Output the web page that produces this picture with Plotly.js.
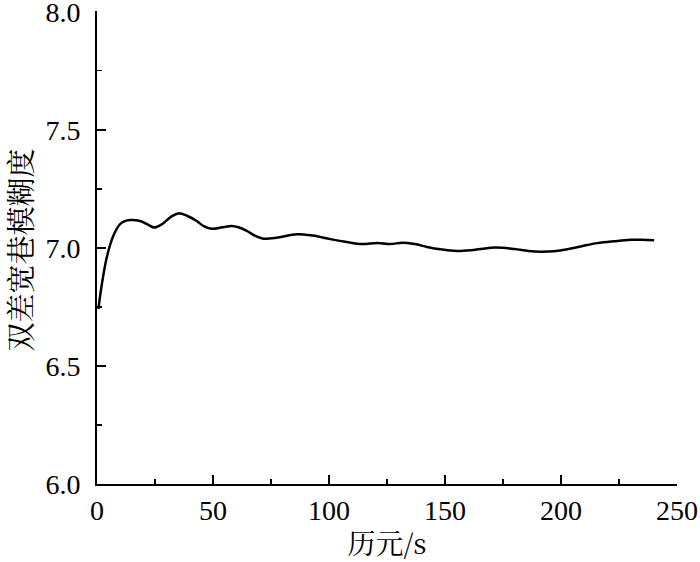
<!DOCTYPE html>
<html><head><meta charset="utf-8">
<script src="https://cdn.plot.ly/plotly-3.0.1.min.js"></script>
<style>html,body{margin:0;padding:0;background:#fff}</style>
</head><body><div id="chart" style="width:700px;height:562px"></div>
<script>
const epochs = [0.6,2,4.2,7,9.9,12,14.2,18.6,22,24.7,28,32,35.1,39,43,46,49.5,54,58.1,61,64.6,68,71.8,78,86.2,93,100.6,107,114.3,120.8,126.5,131.6,137,142.3,148,155.3,163,171.8,180,186,191.3,197,202.8,209,215.7,223,230.1,235,240.2];
const ambiguity = [6.741,6.84,6.959,7.05,7.10,7.113,7.118,7.114,7.098,7.086,7.100,7.132,7.146,7.135,7.114,7.092,7.081,7.087,7.093,7.087,7.072,7.052,7.039,7.044,7.058,7.052,7.037,7.026,7.016,7.021,7.016,7.022,7.016,7.004,6.994,6.987,6.992,7.001,6.995,6.987,6.984,6.986,6.994,7.007,7.02,7.028,7.034,7.034,7.032];
const xTicks = [0, 50, 100, 150, 200, 250];
const xMinor = [25, 75, 125, 175, 225];
const yTicks = [6, 6.5, 7, 7.5, 8];
const yMinor = [6.25, 6.75, 7.25, 7.75];
const xTitle = "历元/s";
const yTitle = "双差宽巷模糊度";

const font = "Liberation Serif, Times New Roman, serif";
const cjk = "Noto Serif CJK SC, Noto Sans CJK SC, serif";

Plotly.newPlot("chart", [{
  x: epochs, y: ambiguity, type: "scatter", mode: "lines",
  line: {color: "#000", width: 2.5, shape: "spline", smoothing: 1}
}], {
  width: 700, height: 562,
  margin: {l: 97, r: 23, t: 11, b: 78},
  paper_bgcolor: "#fff", plot_bgcolor: "#fff",
  showlegend: false,
  font: {family: font, color: "#000", size: 28},
  xaxis: {
    range: [0, 250.05], tickvals: xTicks,
    showline: true, linecolor: "#000", linewidth: 2,
    ticks: "inside", ticklen: 9, tickwidth: 2, tickcolor: "#000",
    minor: {tickvals: xMinor, ticks: "inside", ticklen: 5, tickwidth: 1.5, tickcolor: "#000"},
    showgrid: false, zeroline: false,
    ticklabeloverflow: "allow",
    tickfont: {family: font, size: 28, color: "#000"},
    title: {text: xTitle, font: {family: cjk, size: 28, color: "#000"}, standoff: 14}
  },
  yaxis: {
    range: [6.0, 8.003], tickvals: yTicks,
    tickformat: ".1f",
    showline: true, linecolor: "#000", linewidth: 2,
    ticks: "inside", ticklen: 9, tickwidth: 2, tickcolor: "#000",
    minor: {tickvals: yMinor, ticks: "inside", ticklen: 5, tickwidth: 1.5, tickcolor: "#000"},
    showgrid: false, zeroline: false,
    ticklabelstandoff: 9,
    ticklabeloverflow: "allow",
    tickfont: {family: font, size: 28, color: "#000"}
  },
  annotations: [{
    text: yTitle, xref: "paper", yref: "paper", x: 0, y: 0.5,
    xanchor: "center", yanchor: "middle", xshift: -78, yshift: -3,
    textangle: -90, showarrow: false, borderpad: 0,
    font: {family: cjk, size: 29, color: "#000"}
  }]
}, {displayModeBar: false, staticPlot: true});
</script></body></html>
